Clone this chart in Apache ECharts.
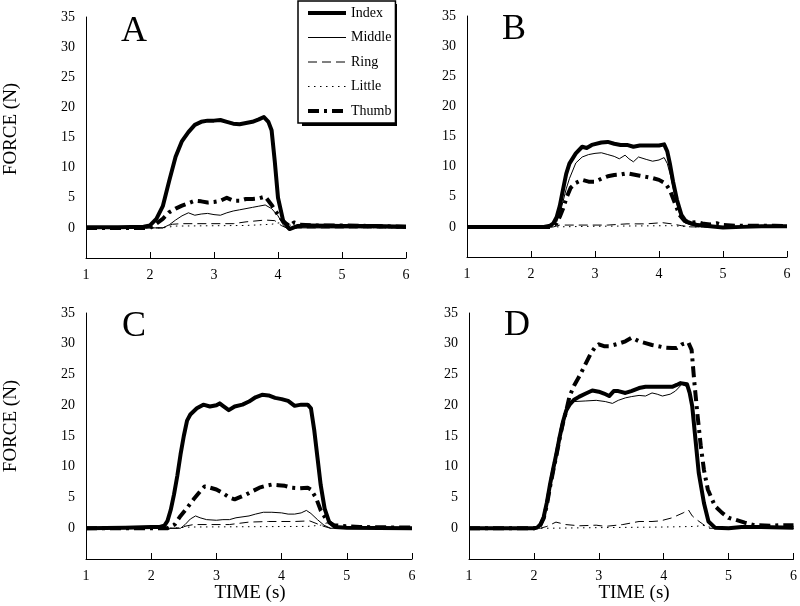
<!DOCTYPE html>
<html><head><meta charset="utf-8">
<script src="https://cdn.jsdelivr.net/npm/echarts@6/dist/echarts.min.js"></script>
<style>html,body{margin:0;padding:0;background:#fff}#c{width:800px;height:606px}</style>
</head><body><div id="c"></div>
<script>
const fingers = ['Index', 'Middle', 'Ring', 'Little', 'Thumb'];
const panelLetters = ['A', 'B', 'C', 'D'];
const xTickValues = [1, 2, 3, 4, 5, 6];
const yTickValues = [0, 5, 10, 15, 20, 25, 30, 35];
const yAxisTitle = 'FORCE (N)';
const xAxisTitle = 'TIME (s)';

// ---- Panel A ----
const A_index = [[1,0.1],[1.5,0.1],[1.9,0.2],[2.0,0.4],[2.1,1.5],[2.2,3.6],[2.3,7.8],[2.4,11.8],[2.5,14.4],[2.6,15.9],[2.7,17.1],[2.8,17.6],[2.9,17.8],[3.0,17.8],[3.1,17.9],[3.2,17.6],[3.3,17.3],[3.4,17.2],[3.5,17.4],[3.6,17.6],[3.7,18.0],[3.78,18.4],[3.85,17.6],[3.9,16.2],[3.95,11],[4.0,5],[4.08,1.2],[4.18,-0.2],[4.3,0.3],[4.5,0.4],[5,0.3],[5.5,0.3],[6,0.2]];
const A_middle = [[1,0],[2.0,0],[2.2,0],[2.3,0.5],[2.4,1.3],[2.5,2.0],[2.6,2.5],[2.7,2.1],[2.8,2.3],[2.9,2.4],[3.0,2.2],[3.1,2.1],[3.2,2.5],[3.3,2.8],[3.4,3.0],[3.5,3.2],[3.6,3.4],[3.7,3.6],[3.8,3.8],[3.9,3.2],[4.0,2.0],[4.08,0.5],[4.16,-0.3],[4.3,0],[6,0]];
const A_ring = [[1,0],[2.2,0],[2.35,0.6],[2.5,0.7],[3.0,0.7],[3.3,0.7],[3.5,1.0],[3.8,1.3],[3.95,1.2],[4.05,0.4],[4.15,-0.1],[4.3,0],[6,0]];
const A_little = [[1,0],[2.2,0],[2.4,0.3],[3.5,0.4],[3.9,0.6],[4.05,0.9],[4.15,0.6],[4.3,0.1],[6,0]];
const A_thumb = [[1,0],[2.0,0],[2.1,0.7],[2.2,1.5],[2.3,2.6],[2.4,3.2],[2.5,3.7],[2.6,4.1],[2.7,4.5],[2.8,4.4],[2.9,4.2],[3.0,4.3],[3.1,4.5],[3.2,5.0],[3.3,4.5],[3.4,4.5],[3.5,4.8],[3.6,4.8],[3.7,4.9],[3.8,5.2],[3.9,3.8],[4.0,2.2],[4.1,0.9],[4.18,0.3],[4.25,0.9],[4.35,0.5],[4.6,0.4],[5,0.4],[5.5,0.3],[6,0.2]];

// ---- Panel B ----
const B_index = [[1,0],[2.2,0],[2.3,0.2],[2.35,0.6],[2.4,1.6],[2.45,3.5],[2.5,6.2],[2.55,8.8],[2.6,10.5],[2.7,12.2],[2.8,13.3],[2.87,13.1],[2.95,13.6],[3.1,14.0],[3.2,14.1],[3.3,13.8],[3.4,13.6],[3.5,13.6],[3.6,13.3],[3.7,13.5],[3.8,13.5],[3.9,13.5],[4.0,13.5],[4.08,13.7],[4.13,12.5],[4.17,10.5],[4.22,7.5],[4.28,4.5],[4.35,2.0],[4.42,0.9],[4.5,0.6],[4.6,0.3],[4.8,0.1],[5.0,-0.1],[5.3,0],[5.6,0.1],[6,0.1]];
const B_middle = [[1,0],[2.3,0],[2.4,0.8],[2.45,2.2],[2.5,4.2],[2.55,6.3],[2.6,8.0],[2.7,10.6],[2.8,11.6],[2.9,12.0],[3.0,12.2],[3.1,12.3],[3.2,12.0],[3.3,11.7],[3.38,11.3],[3.47,11.9],[3.53,11.3],[3.6,10.8],[3.68,11.6],[3.8,11.2],[3.9,10.9],[4.0,11.1],[4.08,11.5],[4.13,10.5],[4.18,8.5],[4.25,5],[4.32,2.2],[4.4,0.7],[4.5,0.3],[4.7,0],[6,0]];
const B_ring = [[1,0],[2.35,0],[2.45,0.3],[3.0,0.3],[3.2,0.3],[3.5,0.5],[3.8,0.5],[4.05,0.7],[4.2,0.5],[4.35,0.2],[4.5,0],[6,0]];
const B_little = [[1,0],[2.4,0],[3.0,0.1],[4.2,0.2],[4.5,0],[6,0]];
const B_thumb = [[1,0],[2.3,0],[2.4,0.6],[2.45,1.7],[2.5,3.0],[2.56,5.0],[2.62,6.5],[2.7,7.3],[2.8,7.8],[2.9,7.5],[3.0,7.5],[3.1,8.0],[3.2,8.4],[3.3,8.6],[3.4,8.7],[3.5,8.9],[3.6,8.7],[3.7,8.5],[3.8,8.3],[3.9,8.1],[4.0,7.8],[4.1,7.2],[4.17,6.1],[4.25,3.9],[4.32,2.0],[4.4,1.0],[4.5,0.7],[4.6,0.8],[4.7,0.5],[4.8,0.4],[4.9,0.6],[5.0,0.3],[5.2,0.2],[5.5,0.2],[5.8,0.2],[6,0.1]];

// ---- Panel C ----
const C_index = [[1,0],[1.6,0.1],[2.0,0.2],[2.13,0.2],[2.2,0.4],[2.25,1.2],[2.3,3.0],[2.35,5.5],[2.4,8.5],[2.45,12],[2.5,15.0],[2.55,17.5],[2.6,18.5],[2.7,19.5],[2.8,20.1],[2.9,19.8],[3.0,20.0],[3.05,20.3],[3.1,19.9],[3.19,19.2],[3.28,19.8],[3.4,20.1],[3.5,20.6],[3.6,21.3],[3.7,21.7],[3.8,21.6],[3.9,21.2],[4.0,21.0],[4.1,20.7],[4.2,19.9],[4.3,20.1],[4.4,20.1],[4.45,19.5],[4.5,16.0],[4.55,11.5],[4.6,7.0],[4.66,3.2],[4.73,1.0],[4.82,0.2],[5.0,0.1],[6,0]];
const C_middle = [[1,0],[2.3,0],[2.45,0.0],[2.52,0.6],[2.6,1.5],[2.68,2.0],[2.75,1.7],[2.85,1.4],[3.0,1.3],[3.1,1.4],[3.2,1.4],[3.3,1.7],[3.5,2.0],[3.6,2.3],[3.72,2.6],[3.85,2.6],[4.0,2.5],[4.1,2.3],[4.2,2.3],[4.3,2.5],[4.38,2.9],[4.45,2.4],[4.55,1.4],[4.65,0.5],[4.75,0],[6,0]];
const C_ring = [[1,0],[2.4,0],[2.55,0.4],[2.65,0.6],[3.2,0.6],[3.5,1.0],[3.8,1.1],[4.2,1.1],[4.43,1.2],[4.55,0.7],[4.65,0.3],[4.75,0],[6,0]];
const C_little = [[1,0],[2.3,0],[2.6,0.2],[4.4,0.3],[4.6,0.5],[4.7,0.9],[4.8,0.4],[5.0,0.1],[6,0]];
const C_thumb = [[1,0],[2.0,0],[2.25,0],[2.36,0.6],[2.45,2.0],[2.55,3.3],[2.65,4.7],[2.75,6.0],[2.82,6.8],[2.9,6.6],[3.0,6.3],[3.1,5.7],[3.2,5.0],[3.28,4.7],[3.37,5.1],[3.46,5.5],[3.55,6.0],[3.66,6.6],[3.76,6.9],[3.85,7.1],[3.95,7.0],[4.05,6.9],[4.15,6.6],[4.28,6.5],[4.4,6.6],[4.45,6.3],[4.53,4.9],[4.6,2.9],[4.7,1.2],[4.8,0.5],[4.9,0.4],[5.2,0.2],[6,0.1]];

// ---- Panel D ----
const D_index = [[1,0],[2.0,0],[2.05,0.1],[2.1,0.6],[2.15,1.8],[2.2,4.2],[2.25,7.2],[2.3,9.8],[2.35,12.3],[2.4,15.0],[2.45,17.4],[2.5,19.2],[2.55,20.1],[2.62,20.9],[2.7,21.4],[2.8,21.9],[2.9,22.4],[3.0,22.2],[3.08,21.9],[3.16,21.5],[3.23,22.3],[3.3,22.3],[3.41,22.0],[3.5,22.3],[3.62,22.8],[3.72,23.0],[3.82,23.0],[4.0,23.0],[4.13,23.0],[4.2,23.3],[4.26,23.6],[4.36,23.4],[4.4,22.0],[4.44,19.8],[4.49,14.4],[4.54,9.0],[4.62,4.1],[4.69,1.1],[4.79,0.1],[5.0,0],[5.2,0.2],[5.5,0.2],[6,0.1]];
const D_middle = [[1,0],[2.0,0],[2.05,0.1],[2.1,0.6],[2.15,1.8],[2.2,4.2],[2.25,7.2],[2.3,9.8],[2.35,12.3],[2.4,15.0],[2.45,17.4],[2.5,19.2],[2.55,20.2],[2.62,20.6],[2.8,20.7],[2.96,20.8],[3.1,20.6],[3.21,20.3],[3.3,20.8],[3.41,21.2],[3.5,21.4],[3.62,21.6],[3.72,21.5],[3.82,22.0],[3.9,21.8],[3.98,21.5],[4.1,21.8],[4.18,22.3],[4.28,23.4],[4.36,23.0],[4.4,21.5],[4.44,19],[4.49,14],[4.54,8.5],[4.62,3.5],[4.69,0.8],[4.8,0],[6,0]];
const D_ring = [[1,0],[2.1,0],[2.2,0.3],[2.34,1.0],[2.49,0.6],[2.7,0.4],[2.96,0.5],[3.1,0.3],[3.37,0.6],[3.62,1.1],[3.82,1.1],[3.95,1.2],[4.13,1.7],[4.3,2.5],[4.38,3.0],[4.44,2.0],[4.52,1.3],[4.6,0.7],[4.69,0],[6,0]];
const D_little = [[1,0],[2.2,0],[3,0.1],[4.0,0.2],[4.5,0.3],[4.6,0.5],[4.7,0.2],[4.8,0],[6,0]];
const D_thumb = [[1,0],[2.0,0],[2.05,0.1],[2.1,0.5],[2.15,1.6],[2.2,3.8],[2.25,6.8],[2.3,9.5],[2.35,12.0],[2.4,14.8],[2.45,17.2],[2.5,19.2],[2.55,21.5],[2.62,23.2],[2.7,24.7],[2.8,26.8],[2.88,28.5],[2.94,29.4],[3.0,29.9],[3.08,29.6],[3.16,29.6],[3.3,30.0],[3.41,30.4],[3.51,31.0],[3.62,30.4],[3.72,30.1],[3.82,29.8],[3.92,29.6],[4.0,29.4],[4.13,29.3],[4.2,29.3],[4.28,29.9],[4.38,30.2],[4.43,29.0],[4.47,24.0],[4.52,18.5],[4.57,13.5],[4.62,9.5],[4.68,6.3],[4.79,3.6],[4.9,2.5],[5.0,1.7],[5.1,1.4],[5.25,0.9],[5.4,0.5],[5.66,0.4],[5.8,0.5],[6,0.5]];

const panelData = [
  [A_index, A_middle, A_ring, A_little, A_thumb],
  [B_index, B_middle, B_ring, B_little, B_thumb],
  [C_index, C_middle, C_ring, C_little, C_thumb],
  [D_index, D_middle, D_ring, D_little, D_thumb]
];

const SERIF = "'Liberation Serif', 'Times New Roman', serif";
const grids = [
  {left: 86, top: 17, width: 320, height: 241},
  {left: 467, top: 16, width: 320, height: 241},
  {left: 86, top: 313, width: 326, height: 246},
  {left: 469, top: 313, width: 327, height: 246}
];
const lineStyles = {
  Index:  {width: 4, type: 'solid'},
  Middle: {width: 1, type: 'solid'},
  Ring:   {width: 1, type: [9, 5]},
  Little: {width: 1, type: [1.5, 4.5]},
  Thumb:  {width: 4, type: [11, 5, 3, 5]}
};

const xAxes = grids.map((g, i) => ({
  type: 'value', gridIndex: i, min: xTickValues[0], max: xTickValues[xTickValues.length - 1], interval: 1,
  axisLine: {show: true, onZero: false, lineStyle: {color: '#000', width: 1}},
  axisTick: {show: true, inside: true, length: 6, lineStyle: {color: '#000'}},
  axisLabel: {color: '#000', fontFamily: SERIF, fontSize: 14, margin: 10},
  splitLine: {show: false}
}));
const yAxes = grids.map((g, i) => ({
  type: 'value', gridIndex: i, min: -5, max: yTickValues[yTickValues.length - 1], interval: 5,
  axisLine: {show: true, onZero: false, lineStyle: {color: '#000', width: 1}},
  axisTick: {show: false},
  axisLabel: {color: '#000', fontFamily: SERIF, fontSize: 14, margin: 11,
    formatter: v => (yTickValues.indexOf(v) >= 0 ? String(v) : '')},
  splitLine: {show: false}
}));

const series = [];
panelData.forEach((arrs, p) => {
  arrs.forEach((d, k) => {
    const name = fingers[k];
    series.push({
      type: 'line', name: name, xAxisIndex: p, yAxisIndex: p, data: d,
      symbol: 'none', showSymbol: false, smooth: false, silent: true, color: '#000',
      z: name === 'Index' ? 3 : (name === 'Thumb' ? 4 : 5),
      lineStyle: {color: '#000', width: lineStyles[name].width, type: lineStyles[name].type, join: 'round', cap: 'butt'}
    });
  });
});

const letterPos = [[134, 32], [514, 30], [134, 327], [517, 326]];
const graphics = [];
panelLetters.forEach((L, i) => {
  graphics.push({type: 'text', x: letterPos[i][0], y: letterPos[i][1], z: 10,
    style: {text: L, font: '36px ' + SERIF, fill: '#000', textAlign: 'center', textVerticalAlign: 'middle'}});
});
[[11, 129], [11, 426]].forEach(pos => {
  graphics.push({type: 'text', x: pos[0], y: pos[1], rotation: Math.PI / 2, z: 10,
    style: {text: yAxisTitle, font: '19px ' + SERIF, fill: '#000', textAlign: 'center', textVerticalAlign: 'middle'}});
});
[[250, 593], [634, 593]].forEach(pos => {
  graphics.push({type: 'text', x: pos[0], y: pos[1], z: 10,
    style: {text: xAxisTitle, font: '19px ' + SERIF, fill: '#000', textAlign: 'center', textVerticalAlign: 'middle'}});
});
// legend drop shadow
graphics.push({type: 'rect', z: 1, shape: {x: 302, y: 4, width: 95, height: 122}, style: {fill: '#000'}});

const chart = echarts.init(document.getElementById('c'), null, {renderer: 'canvas'});
chart.setOption({
  animation: false,
  backgroundColor: '#fff',
  grid: grids.map(g => Object.assign({containLabel: false}, g)),
  xAxis: xAxes,
  yAxis: yAxes,
  legend: {
    data: fingers.map(n => ({name: n, lineStyle: {width: lineStyles[n].width, type: lineStyles[n].type, color: '#000'}})),
    orient: 'vertical', left: 298, top: 1,
    padding: [5, 4, 5, 8], itemWidth: 38, itemHeight: 14, itemGap: 10.5,
    backgroundColor: '#fff', borderColor: '#000', borderWidth: 1.5,
    selectedMode: false, z: 20,
    itemStyle: {opacity: 0},
    textStyle: {color: '#000', fontFamily: SERIF, fontSize: 14, padding: [0, 0, 0, 0]}
  },
  graphic: graphics,
  series: series
});
</script>
</body></html>
